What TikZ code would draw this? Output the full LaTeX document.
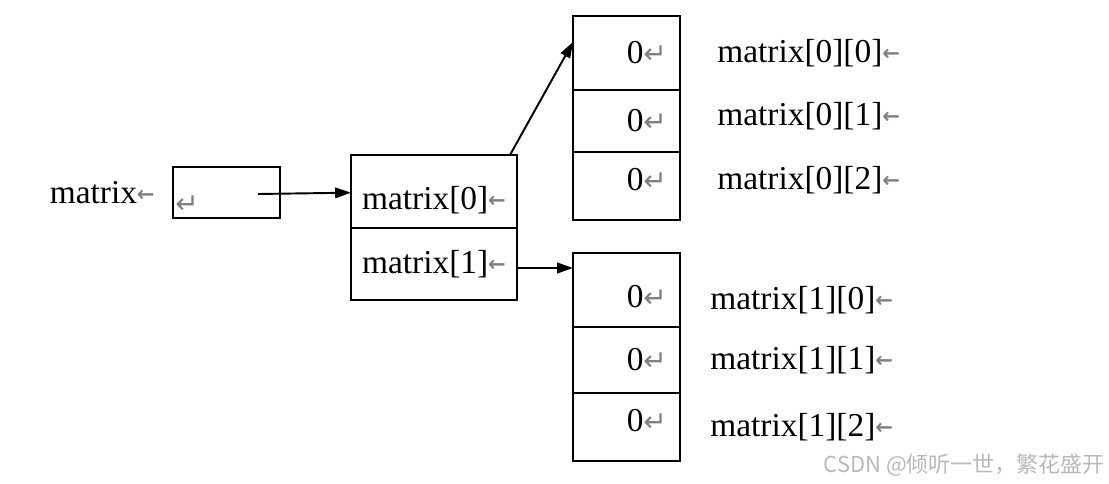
\documentclass[tikz,border=0pt]{standalone}
\usepackage{fontspec}
\setmainfont{Liberation Serif}
\newfontfamily\marksfont{DejaVu Sans}
\newfontfamily\cjkfont{Noto Sans CJK SC}
\usetikzlibrary{arrows.meta, positioning}
\newcommand{\retmark}{{\marksfont\fontsize{16}{16}\selectfont\textcolor{gray}{↵}}}
\newcommand{\parmark}{\raisebox{0.1ex}{\marksfont\bfseries\fontsize{12}{12}\selectfont\textcolor{gray}{←}}}

\begin{document}
\begin{tikzpicture}[font=\fontsize{19}{23}\selectfont, node distance=0pt,
    box/.style={draw, line width=1.2pt, inner sep=0pt, outer sep=0pt},
    cell/.style={box, minimum width=2.14cm, text width=1.62cm, align=right},
    ptr/.style={box, minimum width=3.32cm},
    lbl/.style={inner sep=0pt},
    link/.style={line width=1.1pt, -{Triangle[length=9pt,width=6pt]}}]
    \useasboundingbox (0,0) rectangle (22.18,-9.68);
    % pointer variable
    \node[box, minimum width=2.14cm, minimum height=1.02cm] (p) at (4.53,-3.85) {};
    \node[lbl, left=0.36cm of p] (pname) {matrix\parmark};
    \node[lbl, anchor=south west] (pret) at ([shift={(0.04,0.08)}]p.south west) {\retmark};
    \coordinate (pt) at (5.16,-3.88);
    % row pointers
    \node[ptr, anchor=north, minimum height=1.46cm, text height=0.8cm] (m0) at (8.68,-3.10) {matrix[0]\parmark};
    \node[ptr, below=of m0, minimum height=1.44cm] (m1) {matrix[1]\parmark};
    % row 0
    \node[cell, anchor=north, minimum height=1.48cm] (a00) at (12.53,-0.32) {0\retmark};
    \node[cell, below=of a00, minimum height=1.24cm] (a01) {0\retmark};
    \node[cell, below=of a01, minimum height=1.36cm, text depth=0.25cm] (a02) {0\retmark};
    \node[lbl, right=0.74cm of a00] (n00) {matrix[0][0]\parmark};
    \node[lbl, right=0.74cm of a01, yshift=0.1cm] (n01) {matrix[0][1]\parmark};
    \node[lbl, right=0.74cm of a02, yshift=0.12cm] (n02) {matrix[0][2]\parmark};
    % row 1
    \node[cell, anchor=north, minimum height=1.48cm, text height=0.7cm] (a10) at (12.53,-5.06) {0\retmark};
    \node[cell, below=of a10, minimum height=1.32cm] (a11) {0\retmark};
    \node[cell, below=of a11, minimum height=1.36cm, text depth=0.25cm] (a12) {0\retmark};
    \node[lbl, right=0.6cm of a10, yshift=-0.2cm] (n10) {matrix[1][0]\parmark};
    \node[lbl, right=0.6cm of a11] (n11) {matrix[1][1]\parmark};
    \node[lbl, right=0.6cm of a12] (n12) {matrix[1][2]\parmark};
    % links
    \coordinate (q0) at ([xshift=-0.14cm]m0.north east);
    \coordinate (q1) at ([yshift=-0.08cm]m1.east);
    \draw[link] (pt) -- (m0);
    \draw[link] (q0) -- ([yshift=0.22cm]a00.west);
    \draw[link] (q1) -- (q1 -| a10.west);
    \node[anchor=east, inner sep=0pt, text=gray!55, font=\cjkfont\fontsize{12.5}{15}\selectfont] (wm) at (22.1,-9.3) {CSDN @倾听一世，繁花盛开};
\end{tikzpicture}
\end{document}
